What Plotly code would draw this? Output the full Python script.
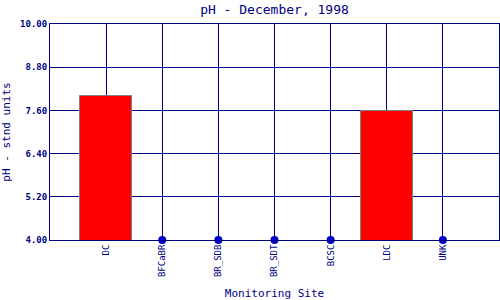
import plotly.graph_objects as go

sites = ["DC", "BFCaBR", "BR_SDB", "BR_SDT", "BCSC", "LDC", "UNK"]
ph_values = [8.01, None, None, None, None, 7.57, None]
missing_sites = ["BFCaBR", "BR_SDB", "BR_SDT", "BCSC", "UNK"]
missing_level = [4.0, 4.0, 4.0, 4.0, 4.0]
y_ticks = [4.0, 5.2, 6.4, 7.6, 8.8, 10.0]

navy = "#000080"
font_family = "DejaVu Sans Mono, Liberation Mono, monospace"

fig = go.Figure()
fig.add_trace(go.Bar(
    x=sites, y=ph_values, width=0.93,
    marker=dict(color="#FF0000", line=dict(color="#808080", width=1)),
))
fig.add_trace(go.Scatter(
    x=missing_sites, y=missing_level, mode="markers",
    marker=dict(color="#0000CC", size=8), cliponaxis=False,
))
fig.update_layout(
    width=500, height=300,
    margin=dict(l=50, r=1, t=24, b=60),
    paper_bgcolor="white", plot_bgcolor="white",
    showlegend=False,
    title=dict(text="pH - December, 1998", x=(50 + 499) / 2 / 500, xanchor="center",
               y=1 - 9 / 300, yanchor="middle",
               font=dict(family=font_family, size=13, color=navy)),
    xaxis=dict(
        type="category", categoryorder="array", categoryarray=sites,
        range=[-1, 7], showgrid=True, gridcolor=navy, gridwidth=1,
        tickangle=-90, ticks="", tickfont=dict(family=font_family, size=9, color=navy),
        showline=True, linecolor=navy, linewidth=1, mirror=True,
        title=dict(text="Monitoring Site", standoff=14,
                   font=dict(family=font_family, size=11, color=navy)),
        zeroline=False,
    ),
    yaxis=dict(
        range=[4, 10], tickvals=y_ticks, tickformat=".2f",
        showgrid=True, gridcolor=navy, gridwidth=1, ticks="",
        tickfont=dict(family=font_family, size=9, color=navy, weight="bold"),
        showline=True, linecolor=navy, linewidth=1, mirror=True,
        title=dict(text="pH - stnd units", standoff=8,
                   font=dict(family=font_family, size=11, color=navy)),
        zeroline=False,
    ),
    bargap=0,
)
fig.write_html("out.html")
